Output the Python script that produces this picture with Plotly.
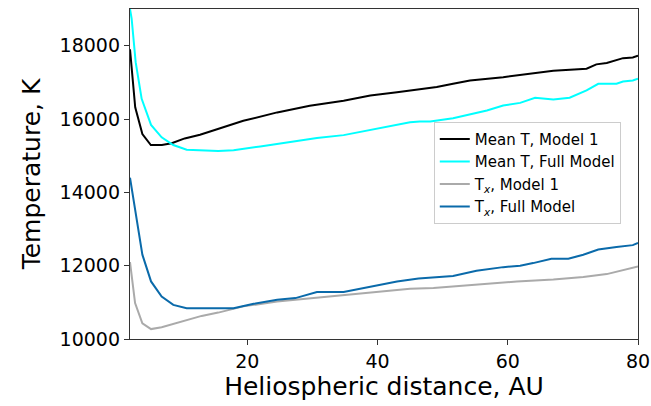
import plotly.graph_objects as go

# Mean T, Model 1
x_mean_m1 = [2.0, 2.8, 3.9, 5.2, 6.9, 8.4, 10.4, 12.75, 14.3, 19.4, 24.6, 29.6, 34.8,
             38.9, 43.0, 47.0, 49.1, 51.6, 54.2, 59.3, 64.4, 67.0, 72.1, 73.6, 75.2,
             77.7, 79.2, 80.0]
t_mean_m1 = [17900, 16320, 15590, 15290, 15290, 15340, 15470, 15570, 15660, 15950, 16180,
             16360, 16500, 16640, 16730, 16820, 16870, 16960, 17050, 17140, 17260, 17315,
             17370, 17490, 17530, 17660, 17680, 17730]

# Mean T, Full Model
x_mean_full = [2.0, 2.25, 2.87, 3.79, 5.23, 6.86, 8.65, 10.7, 15.55, 17.9, 22.0, 26.1,
               30.7, 34.8, 38.4, 41.9, 45.0, 46.5, 48.1, 51.6, 56.8, 59.3, 61.9, 64.2,
               67.0, 69.5, 72.1, 73.9, 76.7, 77.7, 79.2, 80.0]
t_mean_full = [19000, 18740, 17550, 16550, 15840, 15500, 15290, 15160, 15130, 15150,
               15250, 15360, 15480, 15560, 15680, 15800, 15910, 15930, 15930, 16020,
               16230, 16370, 16440, 16580, 16530, 16580, 16780, 16960, 16960, 17020,
               17050, 17100]

# T_x, Model 1
x_tx_m1 = [2.0, 2.78, 3.9, 5.23, 6.86, 8.65, 10.7, 13.0, 15.55, 19.4, 24.6, 29.6, 34.8,
           39.9, 45.0, 48.6, 54.7, 61.4, 67.0, 71.6, 75.2, 77.7, 80.0]
t_tx_m1 = [12100, 10980, 10430, 10270, 10320, 10410, 10520, 10630, 10720, 10890, 11020,
           11110, 11200, 11290, 11370, 11390, 11480, 11570, 11620, 11690, 11770, 11890,
           11980]

# T_x, Full Model
x_tx_full = [2.0, 2.78, 3.9, 5.23, 6.86, 8.65, 10.7, 15.55, 17.9, 21.0, 24.6, 27.4, 30.7,
             34.8, 38.9, 43.0, 46.3, 51.6, 55.2, 59.3, 61.9, 63.9, 66.7, 69.3, 71.6,
             73.9, 76.7, 79.2, 80.0]
t_tx_full = [14400, 13530, 12300, 11570, 11160, 10930, 10840, 10840, 10840, 10960, 11070,
             11115, 11280, 11280, 11415, 11570, 11650, 11720, 11860, 11960, 12000, 12070,
             12190, 12190, 12300, 12440, 12510, 12560, 12620]

names = ["Mean T, Model 1", "Mean T, Full Model",
         "T<sub><i>x</i></sub>, Model 1", "T<sub><i>x</i></sub>, Full Model"]
colors = ["#000000", "#00ffff", "#aaaaaa", "#0a6aaa"]
xs = [x_mean_m1, x_mean_full, x_tx_m1, x_tx_full]
ys = [t_mean_m1, t_mean_full, t_tx_m1, t_tx_full]

x_ticks = [20, 40, 60, 80]
y_ticks = [10000, 12000, 14000, 16000, 18000]

fig = go.Figure()
for x, y, n, c in zip(xs, ys, names, colors):
    fig.add_trace(go.Scatter(x=x, y=y, mode="lines", name=n,
                             line=dict(color=c, width=2)))

axis_common = dict(showline=True, linecolor="#333333", linewidth=1.3, mirror=True,
                   ticks="outside", ticklen=5, tickwidth=1.3, tickcolor="#333333",
                   showgrid=False, zeroline=False,
                   tickfont=dict(family="DejaVu Sans", size=19, color="black"))

fig.update_xaxes(range=[2, 80], tickvals=x_ticks, ticktext=[str(v) for v in x_ticks],
                 title=dict(text="Heliospheric distance, AU",
                            font=dict(family="DejaVu Sans", size=25, color="black"),
                            standoff=2),
                 **axis_common)
fig.update_yaxes(range=[10000, 19000], tickvals=y_ticks, ticktext=[str(v) for v in y_ticks],
                 title=dict(text="Temperature, K",
                            font=dict(family="DejaVu Sans", size=25, color="black"),
                            standoff=11),
                 **axis_common)

fig.update_layout(
    width=651, height=406,
    margin=dict(l=130, r=13, t=9, b=67, autoexpand=False),
    plot_bgcolor="white", paper_bgcolor="white",
    font=dict(family="DejaVu Sans", color="black"),
    legend=dict(x=0.598, y=0.658, xanchor="left", yanchor="top",
                entrywidth=152, entrywidthmode="pixels",
                bgcolor="rgba(255,255,255,0.8)", bordercolor="#cccccc", borderwidth=1,
                font=dict(family="DejaVu Sans", size=15, color="black")),
)

fig.write_html("out.html")
